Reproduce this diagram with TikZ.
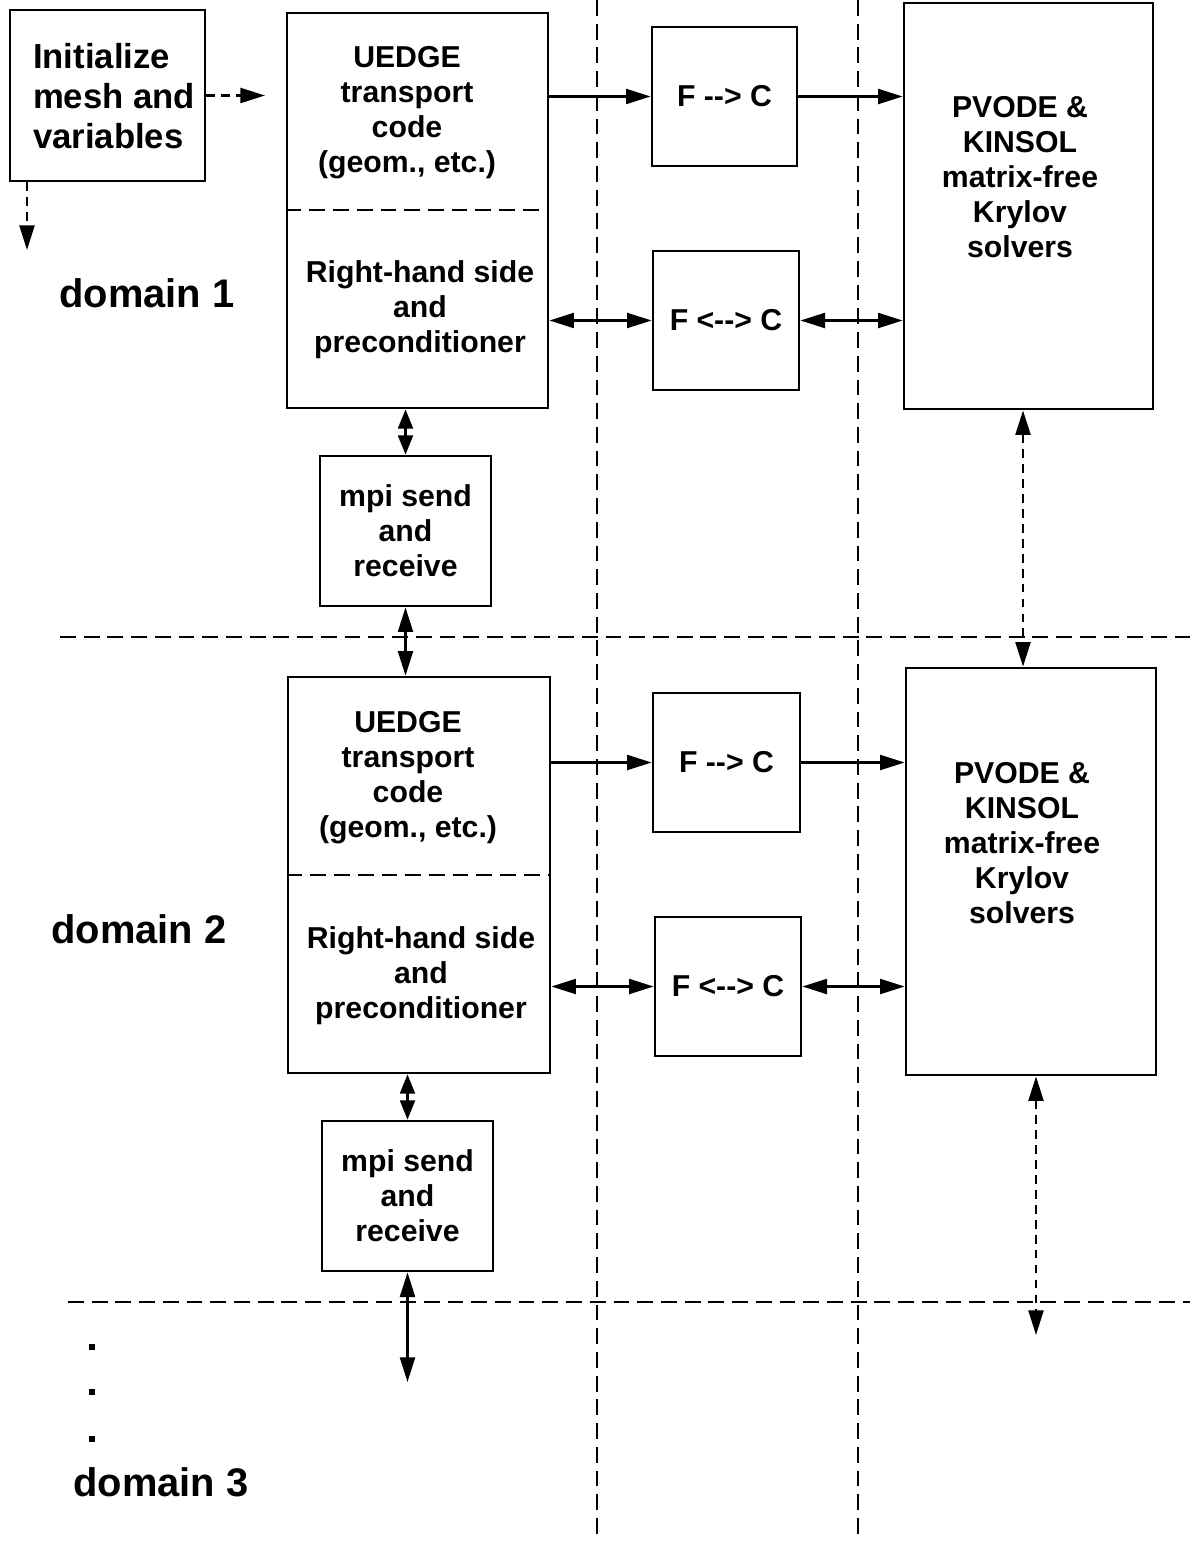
\documentclass[tikz,border=0pt]{standalone}
\usepackage{fontspec}
\setmainfont{Liberation Sans}
\usetikzlibrary{arrows.meta}
\tikzset{
  box/.style={draw, line width=1.6pt, inner sep=0pt, align=center, font=\bfseries\fontsize{17.2}{19.9}\selectfont},
  lbl/.style={align=center, inner sep=0pt, font=\bfseries\fontsize{17.2}{19.9}\selectfont},
  dom/.style={inner sep=0pt, font=\bfseries\fontsize{22.7}{26}\selectfont},
  sep/.style={line width=0.9pt, dash pattern=on 9pt off 4.5pt},
  link/.style={line width=1.4pt, >={Triangle[length=14pt,width=8.5pt]}},
  shortlink/.style={line width=1.4pt, >={Triangle[length=11pt,width=8.5pt]}},
  dlink/.style={link, dash pattern=on 5pt off 3.5pt},
}
\begin{document}
\begin{tikzpicture}[x=0.02cm, y=-0.02cm]
            \useasboundingbox (0,0) rectangle (1190,1541);
            \draw[sep] (597,0) -- (597,1541);
            \draw[sep] (858,0) -- (858,1541);
            \draw[sep] (60,637) -- (1190,637);
            \draw[sep] (68,1302) -- (1190,1302);
            \node[box, line width=1.3pt, minimum width=3.9cm, minimum height=3.42cm] (I) at (107.5,95.5) {};
            \coordinate (Ir) at (265,95.5);
            \coordinate (Id) at (27,250);
            \node[box, minimum width=5.22cm, minimum height=7.9cm] (U1) at (417.5,210.5) {};
            \node[box, minimum width=2.9cm, minimum height=2.78cm] (F1) at (724.5,96.5) {F -{}-> C};
            \node[box, minimum width=2.92cm, minimum height=2.78cm] (B1) at (726,320.5) {F <-{}-> C};
            \node[box, minimum width=4.98cm, minimum height=8.12cm] (P1) at (1028.5,206) {};
            \node[box, minimum width=3.42cm, minimum height=3cm] (M1) at (405.5,531) {mpi send\\and\\receive};
            \node[box, minimum width=5.24cm, minimum height=7.92cm] (U2) at (419,875) {};
            \node[box, minimum width=2.94cm, minimum height=2.78cm] (F2) at (726.5,762.5) {F -{}-> C};
            \node[box, minimum width=2.92cm, minimum height=2.78cm] (B2) at (728,986.5) {F <-{}-> C};
            \node[box, minimum width=5cm, minimum height=8.14cm] (P2) at (1031,871.5) {};
            \node[box, minimum width=3.42cm, minimum height=3cm] (M2) at (407.5,1196) {mpi send\\and\\receive};
            \coordinate (M2e) at (407.5,1382);
            \coordinate (P1e) at (1023,0);
            \coordinate (P2e) at (1036,1335);
            \node[lbl, align=left, font=\bfseries\fontsize{19.75}{22.8}\selectfont] (It) at (114,96) {Initialize\\mesh and\\variables};
            \node[lbl] (U1t) at (407,113) {UEDGE\\transport\\code\\(geom., etc.)};
            \node[lbl] (U1b) at (420,310) {Right-hand side\\and\\preconditioner};
            \node[lbl] (P1t) at (1020,177) {PVODE \&\\KINSOL\\matrix-free\\Krylov\\solvers};
            \node[lbl] (U2t) at (408,778) {UEDGE\\transport\\code\\(geom., etc.)};
            \node[lbl] (U2b) at (421,976) {Right-hand side\\and\\preconditioner};
            \node[lbl] (P2t) at (1022,843) {PVODE \&\\KINSOL\\matrix-free\\Krylov\\solvers};
            \node[dom] (D1) at (147,293) {domain 1};
            \node[dom] (D2) at (139,929) {domain 2};
            \node[dom] (D3) at (161,1482) {domain 3};
            \draw[sep, line width=1.3pt] (U1.west |- 0,210) -- (U1.east |- 0,210);
            \draw[sep, line width=1.3pt] (U2.west |- 0,875) -- (U2.east |- 0,875);
            \foreach \y in {1347,1392,1439} {
                \fill (89,\y-3) rectangle (95,\y+3);
            }
            \path[dlink, ->] (I.east) edge (Ir);
            \path[dlink, ->] (Id |- I.south) edge (Id);
            \path[link, ->] (U1.east |- F1.west) edge (F1.west);
            \path[link, ->] (F1.east) edge (P1.west |- F1.east);
            \path[link, <->] (U1.east |- B1.west) edge (B1.west);
            \path[link, <->] (B1.east) edge (P1.west |- B1.east);
            \path[shortlink, <->] (M1.north |- U1.south) edge (M1.north);
            \path[link, <->] (M1.south) edge (M1.south |- U2.north);
            \path[dlink, <->] (P1e |- P1.south) edge (P1e |- P2.north);
            \path[link, ->] (U2.east |- F2.west) edge (F2.west);
            \path[link, ->] (F2.east) edge (P2.west |- F2.east);
            \path[link, <->] (U2.east |- B2.west) edge (B2.west);
            \path[link, <->] (B2.east) edge (P2.west |- B2.east);
            \path[shortlink, <->] (M2.north |- U2.south) edge (M2.north);
            \path[link, <->] (M2.south) edge (M2e);
            \path[dlink, <->] (P2e |- P2.south) edge (P2e);
        \end{tikzpicture}
\end{document}
